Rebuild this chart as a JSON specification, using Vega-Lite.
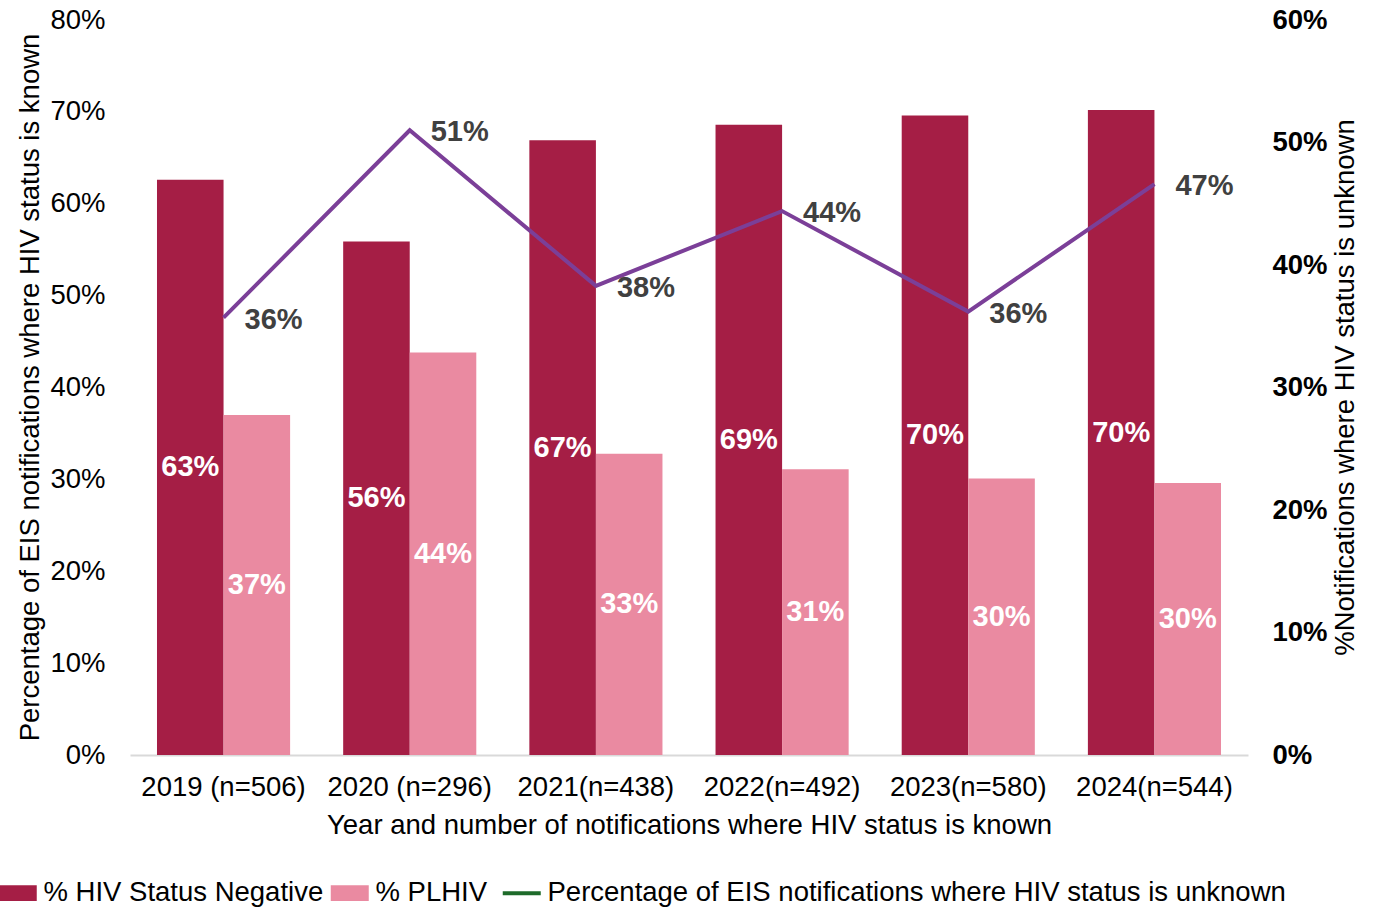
{
  "$schema": "https://vega.github.io/schema/vega-lite/v6.json",
  "width": 1118,
  "height": 735,
  "autosize": {"type": "none"},
  "padding": {"left": 130, "top": 20, "right": 132, "bottom": 153},
  "config": {
    "font": "Liberation Sans",
    "view": {"stroke": null},
    "axis": {"grid": false, "ticks": false, "tickSize": 0, "labelFontSize": 27.5, "titleFontSize": 27.5, "labelColor": "#000000", "titleColor": "#000000", "titleFontWeight": "normal", "domain": false}
  },
  "datasets": {
    "bars": [
      {"year": "2019 (n=506)", "series": "% HIV Status Negative", "value": 0.626},
      {"year": "2019 (n=506)", "series": "% PLHIV", "value": 0.370},
      {"year": "2020 (n=296)", "series": "% HIV Status Negative", "value": 0.559},
      {"year": "2020 (n=296)", "series": "% PLHIV", "value": 0.438},
      {"year": "2021(n=438)", "series": "% HIV Status Negative", "value": 0.669},
      {"year": "2021(n=438)", "series": "% PLHIV", "value": 0.328},
      {"year": "2022(n=492)", "series": "% HIV Status Negative", "value": 0.686},
      {"year": "2022(n=492)", "series": "% PLHIV", "value": 0.311},
      {"year": "2023(n=580)", "series": "% HIV Status Negative", "value": 0.696},
      {"year": "2023(n=580)", "series": "% PLHIV", "value": 0.301},
      {"year": "2024(n=544)", "series": "% HIV Status Negative", "value": 0.702},
      {"year": "2024(n=544)", "series": "% PLHIV", "value": 0.296}
    ],
    "line": [
      {"year": "2019 (n=506)", "value": 0.357},
      {"year": "2020 (n=296)", "value": 0.510},
      {"year": "2021(n=438)", "value": 0.383},
      {"year": "2022(n=492)", "value": 0.444},
      {"year": "2023(n=580)", "value": 0.362},
      {"year": "2024(n=544)", "value": 0.466}
    ]
  },
  "encoding": {
    "x": {
      "field": "year",
      "type": "nominal",
      "sort": null,
      "scale": {"paddingInner": 0.285, "paddingOuter": 0.145},
      "axis": {
        "labelAngle": 0,
        "labelPadding": 32,
        "labelBaseline": "middle",
        "domain": true,
        "domainColor": "#D9D9D9",
        "domainWidth": 2,
        "title": "Year and number of notifications where HIV status is known",
        "titleX": 559,
        "titleY": 70,
        "titleBaseline": "middle",
        "titleAlign": "center"
      }
    }
  },
  "layer": [
    {
      "data": {"name": "bars"},
      "mark": {"type": "bar"},
      "encoding": {
        "xOffset": {"field": "series", "type": "nominal", "scale": {"domain": ["% HIV Status Negative", "% PLHIV"], "paddingInner": 0, "paddingOuter": 0}},
        "y": {
          "field": "value",
          "type": "quantitative",
          "scale": {"domain": [0, 0.8], "nice": false},
          "axis": {
            "orient": "left",
            "values": [0, 0.1, 0.2, 0.3, 0.4, 0.5, 0.6, 0.7, 0.8],
            "format": ".0%",
            "labelPadding": 25,
            "title": "Percentage of EIS notifications where HIV status is known",
            "titleX": -100,
            "titleY": 367,
            "titleAngle": 270,
            "titleAlign": "center",
            "titleBaseline": "middle"
          }
        },
        "color": {
          "field": "series",
          "type": "nominal",
          "scale": {
            "domain": ["% HIV Status Negative", "% PLHIV", "Percentage of EIS notifications where HIV status is unknown"],
            "range": ["#A51E45", "#EA8AA1", "#1E6B2A"]
          },
          "legend": {
            "orient": "none",
            "direction": "horizontal",
            "legendX": -126,
            "legendY": 859,
            "title": null,
            "padding": 0,
            "columnPadding": 6,
            "labelFontSize": 27.5,
            "labelColor": "#000000",
            "labelOffset": 6,
            "symbolSize": 1444,
            "labelLimit": 900,
            "encode": {
              "symbols": {
                "update": {
                  "shape": {"signal": "datum.value === 'Percentage of EIS notifications where HIV status is unknown' ? 'stroke' : 'M-1,-0.42H1V0.42H-1Z'"},
                  "fill": {"scale": "color", "field": "value"},
                  "stroke": {"scale": "color", "field": "value"},
                  "strokeWidth": {"signal": "datum.value === 'Percentage of EIS notifications where HIV status is unknown' ? 4 : 0"},
                  "opacity": {"value": 1}
                }
              },
              "labels": {
                "update": {
                  "dx": {"value": 6}
                }
              }
            }
          }
        }
      }
    },
    {
      "data": {"name": "bars"},
      "mark": {"type": "text", "color": "#FFFFFF", "fontWeight": "bold", "fontSize": 29, "baseline": "middle", "align": "center"},
      "encoding": {
        "xOffset": {"field": "series", "type": "nominal"},
        "y": {"field": "value", "type": "quantitative", "scale": {"domain": [0, 1.6], "nice": false}, "axis": null},
        "text": {"field": "value", "type": "quantitative", "format": ".0%"}
      }
    },
    {
      "data": {"name": "line"},
      "encoding": {
        "y": {
          "field": "value",
          "type": "quantitative",
          "scale": {"domain": [0, 0.6], "nice": false},
          "axis": {
            "orient": "right",
            "values": [0, 0.1, 0.2, 0.3, 0.4, 0.5, 0.6],
            "format": ".0%",
            "labelPadding": 24,
            "labelFontWeight": "bold",
            "title": "%Notifications where HIV status is unknown",
            "titleX": 97,
            "titleY": 367,
            "titleAngle": 270,
            "titleAlign": "center",
            "titleBaseline": "middle"
          }
        }
      },
      "layer": [
        {"mark": {"type": "line", "color": "#7B3F98", "strokeWidth": 4}},
        {
          "mark": {"type": "text", "color": "#404040", "fontWeight": "bold", "fontSize": 29, "dx": 50, "dy": 2, "align": "center", "baseline": "middle"},
          "encoding": {"text": {"field": "value", "type": "quantitative", "format": ".0%"}}
        }
      ]
    }
  ],
  "resolve": {"scale": {"y": "independent"}}
}
